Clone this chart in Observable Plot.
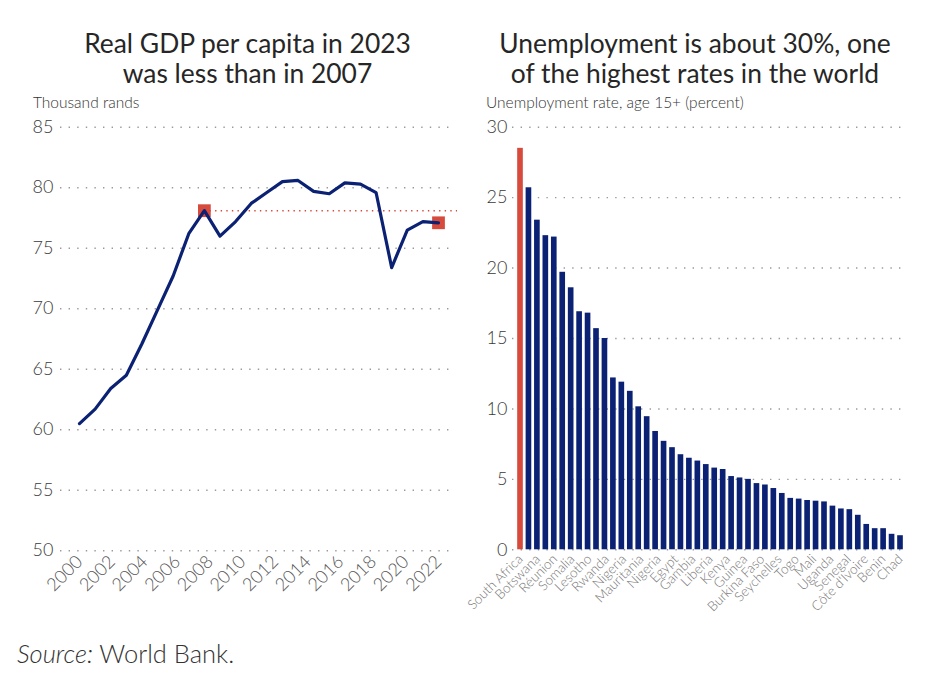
<!DOCTYPE html>
<html>
<head>
<meta charset="utf-8">
<script src="https://cdn.jsdelivr.net/npm/d3@7"></script>
<script src="https://cdn.jsdelivr.net/npm/@observablehq/plot@0.6"></script>
<style>
  html, body { margin: 0; padding: 0; background: #fff; }
  #root { position: relative; width: 942px; height: 674px; overflow: hidden; font-family: Lato, "Noto Sans", sans-serif; }
  .title { position: absolute; top: 28px; font-size: 26.4px; line-height: 30px; font-weight: 400; color: #262626; text-align: center; }
  .sub { position: absolute; top: 95px; font-size: 15.5px; line-height: 1; font-weight: 300; color: #333; white-space: nowrap; }
  .chart { position: absolute; top: 100px; }
  .chart svg { overflow: visible; }
  .source { position: absolute; left: 17px; top: 641px; font-size: 25.5px; line-height: 1; font-weight: 300; color: #333; }
</style>
</head>
<body>
<div id="root">
  <div class="title" style="left:0;width:495px;">Real GDP per capita in 2023<br>was less than in 2007</div>
  <div class="title" style="left:470px;width:450px;">Unemployment is about 30%, one<br>of the highest rates in the world</div>
  <div class="sub" style="left:33px;">Thousand rands</div>
  <div class="sub" style="left:486px;">Unemployment rate, age 15+ (percent)</div>
  <div class="chart" id="left" style="left:0;"></div>
  <div class="chart" id="right" style="left:440px;"></div>
  <div class="source"><i>Source:</i> World Bank.</div>
</div>
<script>
// ---- Left chart data: real GDP per capita (thousand rands) ----
const gdpYears = [2000, 2001, 2002, 2003, 2004, 2005, 2006, 2007, 2008, 2009, 2010, 2011,
                  2012, 2013, 2014, 2015, 2016, 2017, 2018, 2019, 2020, 2021, 2022, 2023];
const gdpValues = [60.5, 61.7, 63.4, 64.5, 67.1, 69.9, 72.7, 76.2, 78.1, 76.0, 77.2, 78.7,
                   79.6, 80.5, 80.6, 79.7, 79.5, 80.4, 80.3, 79.6, 73.4, 76.5, 77.2, 77.1];
const gdpTickLabels = ["2000", "2002", "2004", "2006", "2008", "2010", "2012", "2014", "2016", "2018", "2020", "2022"];
const gdpYTicks = [50, 55, 60, 65, 70, 75, 80, 85];
const markedYears = [2008, 2023];

// ---- Right chart data: unemployment rate, age 15+ (percent) ----
const unempValues = [28.5, 25.7, 23.4, 22.3, 22.2, 19.7, 18.6, 16.9, 16.8, 15.7, 15.0, 12.2,
                     11.9, 11.25, 10.15, 9.45, 8.4, 7.7, 7.25, 6.75, 6.5, 6.3, 6.05, 5.8,
                     5.7, 5.2, 5.1, 5.0, 4.7, 4.6, 4.35, 4.0, 3.65, 3.6, 3.5, 3.45,
                     3.4, 3.1, 2.9, 2.85, 2.45, 1.8, 1.5, 1.5, 1.1, 1.0];
const unempLabels = ["South Africa", "Botswana", "Réunion", "Somalia", "Lesotho", "Rwanda", "Nigeria",
                     "Mauritania", "Nigeria", "Egypt", "Gambia", "Liberia", "Kenya", "Guinea",
                     "Burkina Faso", "Seychelles", "Togo", "Mali", "Uganda", "Senegal",
                     "Côte d'Ivoire", "Benin", "Chad"];
const highlightIndex = 0; // South Africa
const unempYTicks = [0, 5, 10, 15, 20, 25, 30];

const NAVY = "#0b2173";
const RED = "#d64b3c";
const GRID = "#9a9a9a";

// ---- Left chart ----
const gdp = gdpYears.map((year, i) => ({year, value: gdpValues[i]}));
const markers = gdp.filter(d => markedYears.includes(d.year));
const refValue = gdp.find(d => d.year === markedYears[0]).value;
const y0 = gdpYears[0], y1 = gdpYears[gdpYears.length - 1];
const nL = gdpTickLabels.length;
const gdpXTicks = gdpTickLabels.map((_, k) => y0 + k * (y1 - y0) / (nL - 1));

const left = Plot.plot({
  width: 470,
  height: 520,
  marginTop: 26.7,
  marginBottom: 69.8,
  marginLeft: 60,
  marginRight: 16,
  style: {fontFamily: "Lato, 'Noto Sans', sans-serif", fontSize: "18px", background: "transparent"},
  x: {domain: [y0, y1], insetLeft: 19, insetRight: 16},
  y: {domain: [50, 85]},
  marks: [
    Plot.gridY(gdpYTicks, {stroke: GRID, strokeOpacity: 1, strokeWidth: 1.4, strokeDasharray: "1.4,7.2"}),
    Plot.axisY(gdpYTicks, {tickSize: 0, tickPadding: 7, fontSize: 18, fontWeight: 300, fill: "#3a3a3a", label: null}),
    Plot.axisX(gdpXTicks, {
      tickSize: 0, tickPadding: 8, tickRotate: -45, fontSize: 18, fontWeight: 300, fill: "#555", label: null,
      tickFormat: d => gdpTickLabels[Math.round((d - y0) * (nL - 1) / (y1 - y0))]
    }),
    Plot.ruleY([refValue], {x1: markedYears[0], x2: y1, stroke: RED, strokeWidth: 1.4, strokeDasharray: "1.4,4.2", insetRight: -19}),
    Plot.dot(markers, {x: "year", y: "value", symbol: "square", r: 7.2, fill: RED, stroke: null}),
    Plot.line(gdp, {x: "year", y: "value", stroke: NAVY, strokeWidth: 3.2, strokeLinejoin: "round", strokeLinecap: "round"})
  ]
});
document.getElementById("left").append(left);

// ---- Right chart ----
const unemp = unempValues.map((v, i) => ({i, v}));
const lastIdx = unempValues.length - 1;
const nR = unempLabels.length;
const unempXTicks = unempLabels.map((_, k) => k * lastIdx / (nR - 1));

const right = Plot.plot({
  width: 502,
  height: 520,
  marginTop: 26.7,
  marginBottom: 70.7,
  marginLeft: 72,
  marginRight: 35,
  style: {fontFamily: "Lato, 'Noto Sans', sans-serif", fontSize: "18px", background: "transparent"},
  x: {domain: [0, lastIdx], insetLeft: 8, insetRight: 7},
  y: {domain: [0, 30]},
  marks: [
    Plot.gridY(unempYTicks, {stroke: GRID, strokeOpacity: 1, strokeWidth: 1.4, strokeDasharray: "1.4,7.2"}),
    Plot.axisY(unempYTicks, {tickSize: 0, tickPadding: 5, fontSize: 18, fontWeight: 300, fill: "#3a3a3a", label: null}),
    Plot.axisX(unempXTicks, {
      tickSize: 0, tickPadding: 7, tickRotate: -45, fontSize: 13.5, fontWeight: 300, fill: "#777", label: null,
      tickFormat: d => unempLabels[Math.round(d * (nR - 1) / lastIdx)]
    }),
    Plot.rectY(unemp.filter(d => d.i !== highlightIndex), {
      x1: d => d.i - 0.5, x2: d => d.i + 0.5, y: "v", fill: NAVY, insetLeft: 1.4, insetRight: 1.4
    }),
    Plot.rectY(unemp.filter(d => d.i === highlightIndex), {
      x1: d => d.i - 0.5, x2: d => d.i + 0.5, y: "v", fill: RED, insetLeft: 1.4, insetRight: 1.4
    })
  ]
});
document.getElementById("right").append(right);
</script>
</body>
</html>
